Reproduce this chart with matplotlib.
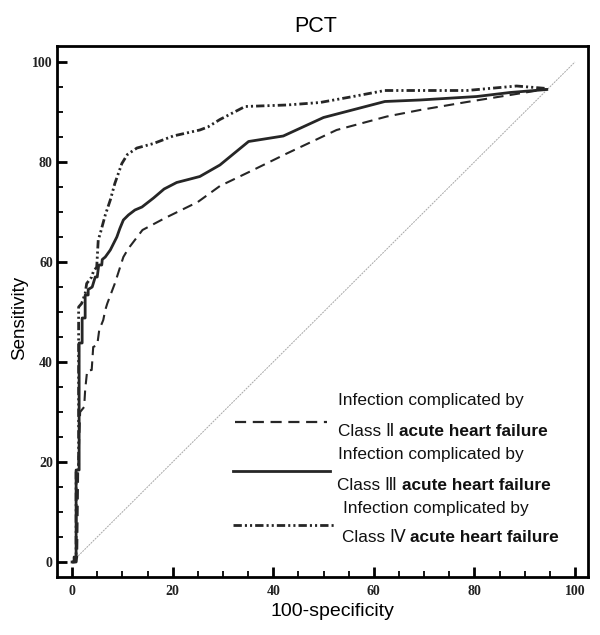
import matplotlib
matplotlib.use("Agg")
import matplotlib.pyplot as plt
from matplotlib.lines import Line2D
from matplotlib.ticker import MultipleLocator

# ---------------- data ----------------
class2_x = [0, 0.8, 1.0, 1.2, 1.6, 2.4, 2.6, 3.0, 3.9, 4.2, 5.0, 5.4, 6.2, 6.6, 7.0, 8.5,
            10.2, 11.2, 14.0, 18.5, 25.0, 29.4, 35.4, 42.7, 52.6, 62.6, 69.2, 78.5, 87.1, 94.4]
class2_y = [0, 0, 1, 18, 30, 31, 34.4, 38.3, 38.4, 43, 43.4, 46.4, 48.4, 50.4, 51.7, 55.7,
            61, 62.7, 66.4, 68.8, 72, 75.2, 78.1, 81.7, 86.4, 89.1, 90.4, 92.0, 93.4, 94.6]

class3_x = [0, 0.4, 0.4, 0.8, 0.8, 1.4, 1.4, 2.0, 2.0, 2.6, 2.6, 3.2, 3.2, 4.0, 4.6, 5.0,
            5.3, 5.9, 6.0, 6.6, 7.6, 8.3, 8.9, 9.5, 10.2, 11.2, 12.5, 13.9, 16.2, 18.3,
            20.8, 23.5, 25.4, 29.4, 35.1, 42.0, 50.0, 62.2, 69.2, 80.5, 87.1, 94.4]
class3_y = [0, 0, 1, 1, 18.4, 18.4, 43.8, 43.8, 48.8, 48.8, 53.4, 53.4, 54.5, 55, 57, 57,
            59.4, 59.4, 60.5, 61, 62.4, 63.8, 65, 66.7, 68.4, 69.4, 70.4, 71, 72.8, 74.6,
            75.9, 76.6, 77.1, 79.4, 84.1, 85.2, 88.9, 92.1, 92.4, 93.1, 93.9, 94.5]

class4_x = [0, 0.8, 0.8, 1.3, 1.3, 1.9, 2.6, 2.9, 3.9, 4.2, 4.9, 5.2, 5.6, 6.6, 7.6, 8.5,
            9.9, 11.0, 12.9, 16.2, 20.1, 25.4, 27.0, 29.4, 34.4, 42.7, 49.3, 55.9, 62.2,
            69.2, 78.5, 88.4, 94.4]
class4_y = [0, 0, 18, 18, 51, 51.7, 53.7, 55.7, 57, 58, 59, 64.4, 65.7, 69.4, 72.4, 75.7,
            79.7, 81.5, 82.8, 83.7, 85.2, 86.4, 87, 88.5, 91.1, 91.4, 91.9, 93.1, 94.3,
            94.3, 94.3, 95.2, 94.7]

ref_x = [0, 100]
ref_y = [0, 100]

xticks = [0, 20, 40, 60, 80, 100]
yticks = [0, 20, 40, 60, 80, 100]

legend_line1 = "Infection complicated by"
legend_classes = ["Class \u2161", "Class \u2162", "Class \u2163"]
legend_tail = " acute heart failure"

# ---------------- figure ----------------
W, H = 600, 635
fig = plt.figure(figsize=(6, 6.35), dpi=100)
ax = fig.add_axes([57 / W, 1 - 577 / H, 531 / W, 531 / H])

lc = "#262626"
dash_style = (0, (5, 3))
dashdot_style = (0, (3, 1.1, 0.75, 1.1, 0.75, 1.1))

ax.plot(ref_x, ref_y, color="#a8a8a8", lw=0.7, ls=(0, (2, 1)))
ax.plot(class2_x, class2_y, color=lc, lw=1.5, ls=dash_style)
ax.plot(class3_x, class3_y, color=lc, lw=2.0, ls="-")
ax.plot(class4_x, class4_y, color=lc, lw=2.0, ls=dashdot_style)

ax.set_xlim(-3, 102.6)
ax.set_ylim(-3, 103.2)

ax.set_xticks(xticks)
ax.set_yticks(yticks)
ax.xaxis.set_minor_locator(MultipleLocator(5))
ax.yaxis.set_minor_locator(MultipleLocator(5))
ax.tick_params(which="major", direction="in", length=7, width=2.0, color="black")
ax.tick_params(which="minor", direction="in", length=4, width=1.3, color="black")
ax.tick_params(axis="x", which="major", pad=6)
ax.tick_params(axis="y", which="major", pad=3)
for lab in ax.get_xticklabels() + ax.get_yticklabels():
    lab.set_fontfamily("Liberation Serif")
    lab.set_fontweight("bold")
    lab.set_fontsize(10)
    lab.set_color("#222222")
for s in ax.spines.values():
    s.set_linewidth(2.0)
    s.set_color("black")

# titles / labels
fig.text(316 / W, 1 - 27 / H, "PCT", ha="center", va="center", fontsize=15.5,
         family="Liberation Sans")
fig.text(332 / W, 1 - 612 / H, "100-specificity", ha="center", va="center", fontsize=14,
         family="Liberation Sans")
fig.text(20 / W, 1 - 318 / H, "Sensitivity", ha="center", va="center", fontsize=13.5,
         rotation=90, family="Liberation Sans")

# custom legend
fam = ["Liberation Sans", "DejaVu Sans"]
fs = 12.4
handles = [
    (235, 327, 422, dict(lw=1.6, ls=dash_style)),
    (233, 330, 471, dict(lw=2.0, ls="-")),
    (233, 335, 525, dict(lw=2.0, ls=dashdot_style)),
]
texts = [(338, 401, 338, 431), (338, 455, 337, 486), (343, 509, 342, 538)]
for (x0, x1, yy, kw), (tx1, ty1, tx2, ty2), cls in zip(handles, texts, legend_classes):
    fig.add_artist(Line2D([x0 / W, x1 / W], [1 - yy / H, 1 - yy / H],
                          transform=fig.transFigure, color=lc, **kw))
    fig.text(tx1 / W, 1 - ty1 / H, legend_line1, ha="left", va="center",
             fontsize=fs, family=fam, color="#111111")
    t = fig.text(tx2 / W, 1 - ty2 / H, cls + " ", ha="left", va="center",
                 fontsize=fs, family=fam, color="#111111")
    ax.annotate(legend_tail.strip(), xy=(1, 0), xycoords=t, ha="left", va="bottom",
                fontsize=fs, family=fam, fontweight="bold", color="#111111",
                annotation_clip=False)

fig.savefig("out.png", dpi=100)
